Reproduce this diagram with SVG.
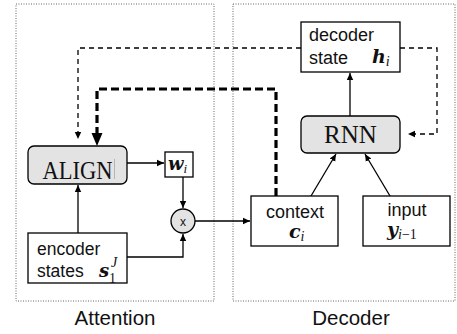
<svg xmlns="http://www.w3.org/2000/svg" width="457" height="334" viewBox="0 0 457 334">
<style>
.frame{fill:none;stroke:#666;stroke-width:1;stroke-dasharray:1 1.5}
.box{fill:#fff;stroke:#000;stroke-width:1.3}
.gbox{fill:#e3e3e3;stroke:#000;stroke-width:1.3}
.line{fill:none;stroke:#000;stroke-width:1.3}
.dash{fill:none;stroke:#000;stroke-width:1.3;stroke-dasharray:5 4}
.thick{fill:none;stroke:#000;stroke-width:3.2;stroke-dasharray:8 4}
.sans{font-family:"Liberation Sans",Arial,sans-serif;fill:#111}
.serif{font-family:"Liberation Serif","Times New Roman",serif;fill:#111}
.math{font-family:"DejaVu Serif","Liberation Serif",serif;font-style:italic;font-weight:bold;fill:#111}
.sub{font-family:"Liberation Serif","Times New Roman",serif;font-style:italic;fill:#111}
</style>
<defs>
<marker id="ah" markerWidth="8" markerHeight="8" refX="7" refY="4" orient="auto" markerUnits="userSpaceOnUse">
<path d="M0,0.8 L7,4 L0,7.2 Z" fill="#000"/>
</marker>
<marker id="ahb" markerWidth="14" markerHeight="12" refX="13" refY="6" orient="auto" markerUnits="userSpaceOnUse">
<path d="M0,0.5 L13,6 L0,11.5 Z" fill="#000"/>
</marker>
</defs>

<g id="attention-frame">
<rect class="frame" x="16" y="4" width="198" height="297"/>
<text class="sans" x="115" y="325" font-size="20.5" text-anchor="middle">Attention</text>
</g>
<g id="decoder-frame">
<rect class="frame" x="233" y="4" width="222" height="297"/>
<text class="sans" x="351" y="325" font-size="20.5" text-anchor="middle">Decoder</text>
</g>

<g id="connectors">
<path class="dash" d="M301,48 H78 V139" marker-end="url(#ah)"/>
<path class="dash" d="M400,48 H437 V134 H408" marker-end="url(#ah)"/>
<path class="thick" d="M276,196 V89 H97 V134" stroke-linecap="butt"/>
<path d="M97,133 V146" stroke="#000" stroke-width="0.1" marker-end="url(#ahb)"/>
<path class="line" d="M127,163 H164" marker-end="url(#ah)"/>
<path class="line" d="M183,177 V208" marker-end="url(#ah)"/>
<path class="line" d="M78,233 V185" marker-end="url(#ah)"/>
<path class="line" d="M127,257 H183 V234" marker-end="url(#ah)"/>
<path class="line" d="M195,221 H250" marker-end="url(#ah)"/>
<path class="line" d="M311,196 L336,154" marker-end="url(#ah)"/>
<path class="line" d="M390,196 L365,154" marker-end="url(#ah)"/>
<path class="line" d="M350,116 V73" marker-end="url(#ah)"/>
</g>

<g id="align">
<rect class="gbox" x="28" y="146" width="99" height="38" rx="6"/>
<text class="serif" x="77.5" y="179" font-size="26" text-anchor="middle" textLength="70" lengthAdjust="spacingAndGlyphs">ALIGN</text>
<line x1="114.5" y1="159" x2="114.5" y2="179" stroke="#aaa" stroke-width="0.8"/>
</g>

<g id="weights">
<rect class="box" x="165" y="152" width="28" height="25"/>
<text x="168" y="170"><tspan class="math" font-size="18">w</tspan><tspan class="sub" font-size="13" dy="3">i</tspan></text>
</g>

<g id="multiply">
<circle cx="183" cy="221" r="12" fill="#e3e3e3" stroke="#000" stroke-width="1.3"/>
<text class="sans" x="183" y="225.5" font-size="12" text-anchor="middle">x</text>
</g>

<g id="encoder">
<rect class="box" x="28" y="233" width="99" height="50"/>
<text class="sans" x="37" y="255" font-size="17.5">encoder</text>
<text class="sans" x="37" y="277" font-size="17.5">states</text>
<text class="math" x="99" y="277" font-size="18">s</text>
<text class="serif" x="109" y="283" font-size="14">1</text>
<text class="sub" x="111" y="267" font-size="14">J</text>
</g>

<g id="context">
<rect class="box" x="251" y="196" width="87" height="50"/>
<text class="sans" x="295" y="218" font-size="18" text-anchor="middle">context</text>
<text x="289" y="238"><tspan class="math" font-size="19">c</tspan><tspan class="sub" font-size="14" dy="3">i</tspan></text>
</g>

<g id="input">
<rect class="box" x="363" y="196" width="87" height="50"/>
<text class="sans" x="407" y="216" font-size="18" text-anchor="middle">input</text>
<text x="387" y="236"><tspan class="math" font-size="19">y</tspan><tspan class="sub" font-size="14" dy="3">i</tspan><tspan class="serif" font-size="14">−1</tspan></text>
</g>

<g id="rnn">
<rect class="gbox" x="301" y="116" width="99" height="37" rx="6"/>
<text class="serif" x="350.5" y="143" font-size="25" text-anchor="middle">RNN</text>
</g>

<g id="decoder-state">
<rect class="box" x="301" y="22" width="99" height="50"/>
<text class="sans" x="309" y="41" font-size="18">decoder</text>
<text class="sans" x="309" y="64" font-size="18">state</text>
<text x="372" y="63"><tspan class="math" font-size="19">h</tspan><tspan class="sub" font-size="14" dy="3">i</tspan></text>
</g>
</svg>
